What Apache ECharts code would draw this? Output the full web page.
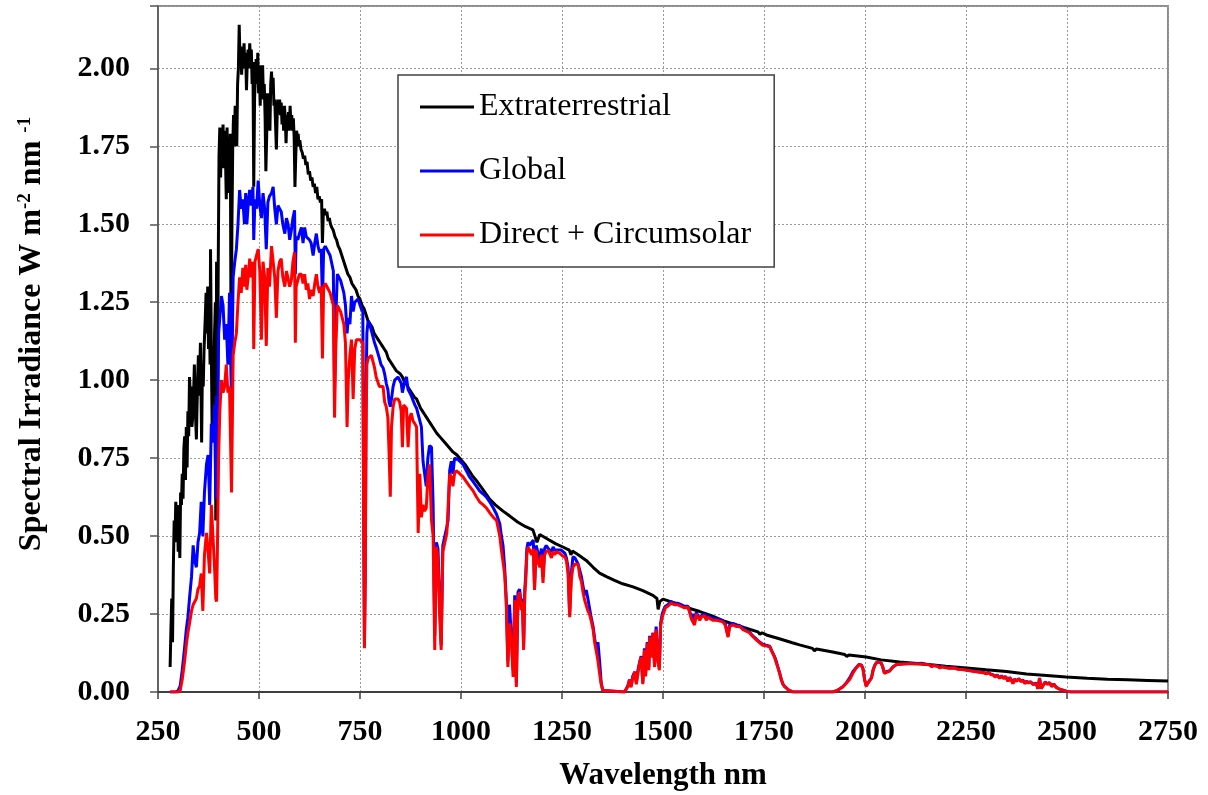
<!DOCTYPE html>
<html>
<head>
<meta charset="utf-8">
<title>Solar Spectral Irradiance</title>
<script src="https://cdn.jsdelivr.net/npm/echarts@6/dist/echarts.min.js"></script>
<style>
  html, body { margin: 0; padding: 0; background: #ffffff; }
  #chart { width: 1208px; height: 795px; }
</style>
</head>
<body>
<div id="chart"></div>
<script>
// Spectral irradiance, W m-2 nm-1, as [wavelength nm, irradiance] pairs.
const extraterrestrial = [
  [280,0.08],[282,0.20],[284,0.30],[286,0.16],[288,0.40],[290,0.55],[292,0.48],[294,0.61],[296,0.56],[298,0.60],
  [300,0.45],[302,0.56],[304,0.43],[306,0.64],[308,0.60],[310,0.70],[312,0.62],[314,0.78],[316,0.82],[318,0.68],
  [320,0.85],[322,0.72],[324,0.90],[326,0.82],[328,1.01],[330,0.95],[332,0.98],[334,0.85],[337,0.90],[340,1.05],
  [342,0.92],[345,0.81],[348,1.00],[350,1.08],[352,0.95],[355,1.12],[358,0.80],[360,1.05],[362,0.98],[364,1.10],
  [367,1.20],[369,1.28],[371,1.15],[373,1.30],[375,1.10],[377,1.20],[379,1.05],[380,1.42],[382,1.10],[384,0.85],
  [386,1.05],[388,1.00],[390,1.15],[392,1.25],[393,0.55],[395,1.38],[397,0.80],[399,1.35],[401,1.72],[403,1.81],
  [405,1.65],[407,1.80],[409,1.75],[411,1.82],[413,1.68],[415,1.80],[417,1.72],[419,1.58],[421,1.81],[423,1.60],
  [425,1.75],[427,1.65],[429,1.79],[431,1.05],[433,1.50],[435,1.75],[437,1.85],[439,1.75],[441,1.88],[443,1.80],
  [445,1.75],[447,1.95],[449,2.00],[451,2.14],[453,2.02],[455,2.07],[457,1.98],[459,2.05],[461,2.01],[463,2.08],
  [465,2.00],[467,2.05],[469,1.93],[471,2.02],[473,2.06],[475,2.00],[477,2.08],[479,2.03],[481,2.06],[483,1.95],
  [485,2.02],[487,1.62],[489,1.90],[491,1.98],[493,2.03],[495,1.95],[497,2.05],[499,1.92],[501,1.98],[503,1.88],
  [505,2.01],[507,1.95],[509,2.01],[511,1.90],[513,1.95],[515,1.85],[517,1.67],[519,1.78],[521,1.92],[523,1.85],
  [525,1.90],[527,1.80],[529,1.95],[531,1.99],[533,1.92],[535,1.97],[537,1.88],[539,1.90],[541,1.82],[543,1.74],
  [545,1.85],[547,1.90],[549,1.86],[551,1.90],[553,1.85],[555,1.89],[557,1.82],[559,1.86],[561,1.80],[563,1.88],
  [565,1.84],[567,1.76],[569,1.85],[571,1.82],[573,1.86],[575,1.80],[577,1.88],[579,1.82],[581,1.85],[583,1.80],
  [585,1.84],[587,1.78],[589,1.62],[591,1.72],[593,1.80],[595,1.78],[597,1.79],[599,1.75],[601,1.77],[604,1.74],
  [607,1.73],[610,1.71],[613,1.72],[616,1.69],[619,1.70],[622,1.66],[625,1.67],[628,1.64],[631,1.65],[634,1.62],
  [637,1.63],[640,1.60],[643,1.62],[646,1.58],[649,1.59],[652,1.57],[655,1.58],[657,1.44],[659,1.53],[662,1.55],
  [665,1.53],[668,1.54],[671,1.51],[674,1.52],[677,1.50],[680,1.49],[684,1.48],[688,1.46],[692,1.45],[696,1.43],
  [700,1.42],[705,1.40],[710,1.38],[715,1.36],[720,1.34],[725,1.33],[730,1.31],[735,1.30],[740,1.29],[745,1.27],
  [750,1.26],[755,1.24],[760,1.23],[765,1.21],[770,1.19],[775,1.18],[780,1.17],[785,1.15],[790,1.14],[795,1.13],
  [800,1.12],[805,1.11],[810,1.10],[815,1.09],[820,1.07],[825,1.06],[830,1.05],[835,1.04],[840,1.03],[845,1.025],
  [850,1.02],[855,1.01],[860,0.995],[866,0.985],[870,0.975],[875,0.965],[880,0.955],[885,0.945],[890,0.94],[895,0.925],
  [900,0.91],[905,0.90],[910,0.89],[915,0.88],[920,0.87],[925,0.86],[930,0.85],[940,0.83],[950,0.815],[960,0.80],
  [970,0.785],[980,0.77],[990,0.76],[1000,0.745],[1010,0.73],[1020,0.71],[1030,0.69],[1040,0.675],[1054,0.65],[1070,0.62],
  [1085,0.60],[1104,0.58],[1120,0.565],[1140,0.545],[1160,0.53],[1178,0.52],[1188,0.48],[1195,0.505],[1215,0.49],[1235,0.475],
  [1252,0.465],[1268,0.455],[1272,0.44],[1276,0.452],[1290,0.44],[1310,0.422],[1327,0.40],[1343,0.381],[1360,0.37],[1380,0.358],
  [1400,0.347],[1426,0.337],[1450,0.325],[1475,0.31],[1485,0.30],[1488,0.265],[1492,0.29],[1500,0.298],[1530,0.285],[1560,0.27],
  [1591,0.258],[1620,0.245],[1650,0.228],[1673,0.218],[1700,0.207],[1735,0.193],[1740,0.185],[1745,0.19],[1756,0.183],[1790,0.17],
  [1820,0.158],[1838,0.151],[1870,0.14],[1875,0.132],[1880,0.138],[1920,0.128],[1950,0.12],[1955,0.114],[1960,0.119],[2003,0.112],
  [2040,0.103],[2086,0.096],[2150,0.089],[2200,0.083],[2251,0.077],[2300,0.071],[2350,0.066],[2400,0.058],[2450,0.053],[2498,0.048],
  [2550,0.044],[2600,0.041],[2650,0.039],[2700,0.037],[2750,0.035]
];

const global = [
  [280,0],[295,0],[300,0.005],[305,0.02],[310,0.07],[316,0.145],[320,0.20],[324,0.24],[328,0.30],[333,0.37],
  [337,0.47],[341,0.42],[345,0.40],[349,0.48],[353,0.51],[357,0.61],[361,0.50],[365,0.64],[370,0.73],[374,0.76],
  [378,0.60],[382,0.86],[386,0.80],[390,0.92],[393,0.62],[395,0.95],[397,0.70],[400,1.15],[403,1.20],[407,1.27],
  [411,1.24],[415,1.13],[419,1.18],[423,1.05],[427,1.28],[432,0.92],[436,1.33],[440,1.38],[444,1.42],[448,1.50],
  [452,1.61],[456,1.55],[460,1.58],[464,1.50],[467,1.60],[470,1.50],[474,1.58],[477,1.61],[481,1.56],[485,1.62],
  [487,1.45],[490,1.58],[494,1.55],[498,1.64],[502,1.56],[506,1.52],[510,1.60],[514,1.55],[518,1.42],[522,1.57],
  [526,1.59],[531,1.60],[535,1.62],[539,1.55],[543,1.50],[547,1.56],[551,1.55],[555,1.54],[559,1.50],[564,1.47],
  [568,1.52],[572,1.50],[576,1.45],[580,1.48],[584,1.52],[588,1.545],[590,1.34],[592,1.46],[596,1.45],[600,1.47],
  [605,1.49],[609,1.44],[613,1.49],[617,1.46],[621,1.46],[625,1.45],[629,1.44],[634,1.40],[638,1.44],[642,1.47],
  [646,1.43],[650,1.41],[654,1.42],[657,1.25],[660,1.42],[664,1.43],[668,1.43],[672,1.41],[676,1.40],[680,1.40],
  [684,1.35],[687,0.97],[690,1.20],[694,1.34],[698,1.34],[702,1.32],[706,1.30],[710,1.28],[714,1.24],[718,1.15],
  [721,1.20],[725,1.18],[729,1.27],[733,1.22],[737,1.25],[741,1.245],[745,1.26],[749,1.245],[753,1.23],[757,1.22],
  [759,0.60],[761,0.16],[763,0.40],[765,0.95],[767,1.15],[770,1.19],[774,1.18],[778,1.16],[782,1.14],[786,1.12],
  [790,1.105],[794,1.10],[798,1.07],[802,1.05],[807,1.04],[811,1.02],[815,0.99],[819,0.97],[822,0.93],[825,0.915],
  [828,0.94],[832,0.98],[836,1.00],[840,1.00],[844,1.01],[848,1.01],[852,0.99],[855,0.96],[858,0.98],[861,1.00],
  [865,1.01],[869,0.97],[873,0.96],[877,0.95],[881,0.936],[886,0.92],[890,0.91],[894,0.89],[898,0.894],[902,0.85],
  [906,0.74],[910,0.70],[914,0.66],[918,0.75],[922,0.79],[927,0.785],[931,0.60],[935,0.18],[939,0.48],[943,0.46],
  [947,0.30],[951,0.15],[955,0.47],[960,0.50],[965,0.53],[968,0.55],[972,0.71],[976,0.74],[980,0.70],[984,0.75],
  [988,0.753],[993,0.745],[997,0.75],[1005,0.73],[1013,0.71],[1021,0.69],[1030,0.675],[1038,0.66],[1046,0.645],[1055,0.635],
  [1063,0.625],[1071,0.61],[1080,0.59],[1088,0.57],[1092,0.555],[1096,0.54],[1100,0.50],[1104,0.47],[1108,0.40],[1112,0.30],
  [1116,0.10],[1120,0.28],[1125,0.17],[1129,0.07],[1133,0.31],[1137,0.03],[1141,0.32],[1145,0.33],[1149,0.28],[1152,0.30],
  [1155,0.15],[1158,0.33],[1160,0.37],[1163,0.46],[1166,0.48],[1170,0.47],[1175,0.48],[1179,0.487],[1182,0.34],[1186,0.47],
  [1190,0.45],[1195,0.42],[1199,0.46],[1203,0.37],[1207,0.46],[1211,0.47],[1216,0.46],[1220,0.465],[1224,0.45],[1228,0.465],
  [1232,0.455],[1236,0.46],[1240,0.455],[1244,0.45],[1248,0.455],[1252,0.455],[1257,0.445],[1261,0.43],[1265,0.40],[1269,0.25],
  [1273,0.38],[1277,0.433],[1282,0.43],[1286,0.42],[1290,0.41],[1294,0.39],[1298,0.37],[1302,0.34],[1306,0.31],[1310,0.327],
  [1314,0.30],[1318,0.27],[1322,0.24],[1327,0.21],[1331,0.17],[1335,0.14],[1339,0.16],[1343,0.10],[1347,0.03],[1351,0.005],
  [1355,0],[1405,0],[1409,0.002],[1413,0.02],[1417,0.04],[1421,0.02],[1425,0.05],[1430,0.065],[1434,0.03],[1438,0.07],
  [1442,0.095],[1446,0.115],[1450,0.03],[1454,0.14],[1457,0.06],[1461,0.16],[1465,0.08],[1467,0.18],[1471,0.12],[1475,0.19],
  [1479,0.09],[1483,0.21],[1487,0.12],[1491,0.08],[1494,0.22],[1498,0.25],[1502,0.265],[1506,0.275],[1512,0.28],[1520,0.29],
  [1528,0.285],[1536,0.285],[1545,0.28],[1553,0.275],[1562,0.275],[1566,0.26],[1570,0.24],[1574,0.25],[1578,0.22],[1582,0.255],
  [1586,0.25],[1591,0.235],[1595,0.245],[1599,0.24],[1603,0.25],[1607,0.235],[1611,0.245],[1616,0.24],[1620,0.235],[1624,0.235],
  [1632,0.235],[1640,0.232],[1648,0.228],[1654,0.22],[1661,0.18],[1665,0.215],[1673,0.22],[1682,0.215],[1690,0.213],[1698,0.205],
  [1706,0.198],[1714,0.193],[1722,0.18],[1731,0.17],[1739,0.16],[1747,0.153],[1755,0.15],[1764,0.147],[1770,0.13],[1776,0.114],
  [1780,0.10],[1784,0.082],[1789,0.06],[1793,0.04],[1797,0.025],[1801,0.018],[1805,0.013],[1812,0.005],[1822,0],[1920,0],
  [1930,0.004],[1937,0.01],[1945,0.017],[1953,0.028],[1962,0.045],[1970,0.065],[1978,0.078],[1985,0.088],[1991,0.087],[1995,0.075],
  [1999,0.04],[2003,0.02],[2008,0.03],[2012,0.025],[2016,0.045],[2020,0.07],[2024,0.085],[2028,0.094],[2034,0.097],[2040,0.093],
  [2044,0.08],[2048,0.062],[2053,0.065],[2057,0.06],[2061,0.068],[2065,0.072],[2069,0.08],[2073,0.085],[2078,0.088],[2090,0.09],
  [2110,0.091],[2127,0.091],[2140,0.092],[2150,0.089],[2160,0.087],[2165,0.082],[2170,0.086],[2180,0.083],[2185,0.078],[2190,0.082],
  [2200,0.079],[2209,0.077],[2220,0.078],[2230,0.074],[2240,0.073],[2251,0.071],[2260,0.069],[2270,0.067],[2280,0.065],[2292,0.063],
  [2300,0.06],[2305,0.063],[2312,0.057],[2317,0.055],[2322,0.05],[2327,0.055],[2333,0.045],[2338,0.052],[2343,0.045],[2348,0.05],
  [2354,0.035],[2358,0.047],[2362,0.04],[2366,0.028],[2370,0.042],[2375,0.035],[2380,0.043],[2386,0.035],[2391,0.038],[2396,0.028],
  [2400,0.035],[2405,0.03],[2410,0.033],[2416,0.025],[2420,0.03],[2424,0.028],[2428,0.01],[2432,0.045],[2436,0.012],[2440,0.016],
  [2446,0.032],[2452,0.026],[2457,0.03],[2462,0.018],[2467,0.026],[2473,0.016],[2480,0.01],[2490,0.006],[2500,0.002],[2510,0],
  [2750,0]
];

const direct = [
  [280,0],[295,0],[300,0],[305,0.005],[310,0.04],[316,0.10],[320,0.15],[324,0.19],[328,0.22],[333,0.26],
  [337,0.28],[341,0.28],[345,0.30],[349,0.33],[353,0.34],[357,0.38],[361,0.26],[365,0.44],[370,0.51],[374,0.45],
  [378,0.38],[382,0.60],[386,0.50],[390,0.40],[393,0.30],[395,0.29],[397,0.45],[400,0.75],[403,0.90],[407,1.00],
  [411,0.96],[415,0.98],[419,1.05],[423,0.96],[427,0.98],[432,0.64],[436,1.08],[440,1.12],[444,1.15],[448,1.25],
  [452,1.33],[456,1.28],[460,1.36],[464,1.30],[467,1.37],[470,1.29],[474,1.34],[477,1.39],[481,1.33],[485,1.38],
  [487,1.10],[490,1.38],[494,1.40],[498,1.42],[502,1.35],[506,1.13],[510,1.38],[514,1.33],[518,1.11],[522,1.36],
  [526,1.30],[531,1.43],[535,1.38],[539,1.33],[543,1.20],[547,1.35],[551,1.38],[555,1.39],[559,1.33],[564,1.30],
  [568,1.35],[572,1.35],[576,1.30],[580,1.32],[584,1.38],[588,1.41],[590,1.12],[592,1.30],[596,1.32],[600,1.34],
  [605,1.34],[609,1.31],[613,1.34],[617,1.29],[621,1.31],[625,1.26],[629,1.29],[634,1.27],[638,1.31],[642,1.34],
  [646,1.30],[650,1.28],[654,1.30],[657,1.07],[660,1.30],[664,1.31],[668,1.31],[672,1.29],[676,1.28],[680,1.28],
  [684,1.24],[687,0.88],[690,1.10],[694,1.24],[698,1.245],[702,1.22],[706,1.20],[710,1.18],[714,1.12],[718,0.85],
  [721,1.00],[725,1.08],[729,1.13],[733,0.94],[737,1.10],[741,1.13],[745,1.13],[749,1.13],[753,1.13],[757,1.12],
  [759,0.55],[761,0.14],[763,0.35],[765,0.85],[767,1.05],[770,1.07],[774,1.07],[778,1.08],[782,1.085],[786,1.04],
  [790,1.01],[794,1.01],[798,0.98],[802,0.98],[807,0.98],[811,0.93],[815,0.915],[819,0.88],[822,0.765],[825,0.626],
  [828,0.85],[832,0.915],[836,0.94],[840,0.945],[844,0.94],[848,0.93],[852,0.90],[855,0.785],[858,0.92],[861,0.926],
  [865,0.91],[869,0.785],[873,0.88],[877,0.894],[881,0.87],[886,0.86],[890,0.85],[894,0.51],[898,0.70],[902,0.56],
  [906,0.60],[910,0.58],[914,0.59],[918,0.69],[922,0.73],[927,0.55],[931,0.50],[935,0.135],[939,0.465],[943,0.43],
  [947,0.25],[951,0.135],[955,0.45],[960,0.48],[965,0.51],[968,0.51],[972,0.70],[976,0.69],[980,0.66],[984,0.70],
  [988,0.71],[993,0.705],[997,0.705],[1005,0.69],[1013,0.675],[1021,0.66],[1030,0.645],[1038,0.626],[1046,0.61],[1055,0.60],
  [1063,0.59],[1071,0.575],[1080,0.56],[1088,0.55],[1092,0.525],[1096,0.50],[1100,0.455],[1104,0.455],[1108,0.38],[1112,0.285],
  [1116,0.08],[1120,0.22],[1125,0.157],[1129,0.048],[1133,0.295],[1137,0.016],[1141,0.305],[1145,0.32],[1149,0.263],[1152,0.29],
  [1155,0.135],[1158,0.32],[1160,0.35],[1163,0.44],[1166,0.465],[1170,0.455],[1175,0.44],[1179,0.46],[1182,0.327],[1186,0.455],
  [1190,0.42],[1195,0.40],[1199,0.44],[1203,0.35],[1207,0.44],[1211,0.45],[1216,0.455],[1220,0.455],[1224,0.43],[1228,0.45],
  [1232,0.44],[1236,0.45],[1240,0.445],[1244,0.445],[1248,0.44],[1252,0.436],[1257,0.433],[1261,0.42],[1265,0.38],[1269,0.24],
  [1273,0.36],[1277,0.40],[1282,0.41],[1286,0.41],[1290,0.41],[1294,0.37],[1298,0.355],[1302,0.32],[1306,0.295],[1310,0.30],
  [1314,0.26],[1318,0.25],[1322,0.23],[1327,0.20],[1331,0.157],[1335,0.13],[1339,0.10],[1343,0.06],[1347,0.025],[1351,0.005],
  [1355,0],[1405,0],[1409,0.002],[1413,0.018],[1417,0.038],[1421,0.015],[1425,0.045],[1430,0.064],[1434,0.025],[1438,0.06],
  [1442,0.093],[1446,0.112],[1450,0.025],[1454,0.135],[1457,0.05],[1461,0.157],[1465,0.07],[1467,0.176],[1471,0.11],[1475,0.19],
  [1479,0.08],[1483,0.20],[1487,0.10],[1491,0.07],[1494,0.21],[1498,0.24],[1502,0.255],[1506,0.27],[1512,0.275],[1520,0.285],
  [1528,0.28],[1536,0.28],[1545,0.275],[1553,0.27],[1562,0.272],[1566,0.255],[1570,0.235],[1574,0.24],[1578,0.215],[1582,0.25],
  [1586,0.245],[1591,0.23],[1595,0.24],[1599,0.235],[1603,0.245],[1607,0.23],[1611,0.24],[1616,0.235],[1620,0.23],[1624,0.23],
  [1632,0.23],[1640,0.228],[1648,0.225],[1654,0.215],[1661,0.176],[1665,0.21],[1673,0.215],[1682,0.21],[1690,0.21],[1698,0.20],
  [1706,0.195],[1714,0.19],[1722,0.178],[1731,0.167],[1739,0.158],[1747,0.15],[1755,0.148],[1764,0.145],[1770,0.128],[1776,0.112],
  [1780,0.095],[1784,0.08],[1789,0.058],[1793,0.038],[1797,0.025],[1801,0.017],[1805,0.013],[1812,0.005],[1822,0],[1920,0],
  [1930,0.004],[1937,0.01],[1945,0.016],[1953,0.027],[1962,0.04],[1970,0.06],[1978,0.077],[1985,0.087],[1991,0.086],[1995,0.074],
  [1999,0.04],[2003,0.018],[2008,0.03],[2012,0.025],[2016,0.045],[2020,0.07],[2024,0.085],[2028,0.093],[2034,0.096],[2040,0.093],
  [2044,0.08],[2048,0.06],[2053,0.063],[2057,0.058],[2061,0.067],[2065,0.07],[2069,0.08],[2073,0.085],[2078,0.088],[2090,0.09],
  [2110,0.091],[2127,0.09],[2140,0.09],[2150,0.088],[2160,0.087],[2165,0.081],[2170,0.085],[2180,0.082],[2185,0.077],[2190,0.081],
  [2200,0.078],[2209,0.076],[2220,0.077],[2230,0.073],[2240,0.072],[2251,0.07],[2260,0.068],[2270,0.066],[2280,0.064],[2292,0.062],
  [2300,0.058],[2305,0.062],[2312,0.055],[2317,0.055],[2322,0.048],[2327,0.054],[2333,0.044],[2338,0.051],[2343,0.043],[2348,0.049],
  [2354,0.034],[2358,0.046],[2362,0.039],[2366,0.027],[2370,0.04],[2375,0.034],[2380,0.042],[2386,0.034],[2391,0.037],[2396,0.027],
  [2400,0.034],[2405,0.029],[2410,0.032],[2416,0.024],[2420,0.029],[2424,0.027],[2428,0.01],[2432,0.044],[2436,0.011],[2440,0.016],
  [2446,0.031],[2452,0.025],[2457,0.03],[2462,0.017],[2467,0.025],[2473,0.015],[2480,0.01],[2490,0.006],[2500,0.002],[2510,0],
  [2750,0]
];

const seriesNames = ['Extraterrestrial', 'Global', 'Direct + Circumsolar'];
const seriesColors = ['#000000', '#0000ff', '#ff0000'];

// Axis ranges and tick steps
const xRange = [250, 2750], xStep = 250;
const yRange = [0, 2.2], yStep = 0.25, yLastLabel = 2.0;

const SERIF = '"Liberation Serif", "Times New Roman", Times, serif';

const chart = echarts.init(document.getElementById('chart'), null, { renderer: 'canvas' });

const lineSeries = [extraterrestrial, global, direct].map((data, i) => ({
  name: seriesNames[i],
  type: 'line',
  data: data,
  symbol: 'none',
  showSymbol: false,
  lineStyle: { color: seriesColors[i], width: 3 },
  itemStyle: { color: seriesColors[i] },
  z: 2 + i,
  animation: false
}));

chart.setOption({
  animation: false,
  backgroundColor: '#ffffff',
  grid: {
    left: 158, right: 40, top: 6, bottom: 103,
    outerBoundsMode: 'none',
    show: true, borderColor: '#8c8c8c', borderWidth: 2, backgroundColor: 'transparent'
  },
  legend: {
    data: seriesNames,
    orient: 'vertical',
    left: 398, top: 75,
    padding: [16, 23, 16, 22],
    itemGap: 32,
    itemWidth: 54,
    itemHeight: 3,
    icon: 'rect',
    backgroundColor: '#ffffff',
    borderColor: '#404040',
    borderWidth: 1.5,
    textStyle: { fontFamily: SERIF, fontSize: 32, color: '#000000', lineHeight: 32 }
  },
  xAxis: {
    type: 'value',
    min: xRange[0], max: xRange[1], interval: xStep,
    name: 'Wavelength nm',
    nameLocation: 'middle',
    nameGap: 68,
    nameTextStyle: { fontFamily: SERIF, fontSize: 31, fontWeight: 'bold', color: '#000000' },
    axisLine: { show: true, onZero: false, lineStyle: { color: '#404040', width: 2 } },
    axisTick: { show: true, inside: false, length: 7, lineStyle: { color: '#404040', width: 1.5 } },
    axisLabel: {
      margin: 25, fontFamily: SERIF, fontSize: 30, fontWeight: 'bold', color: '#000000',
      formatter: v => String(v)
    },
    splitLine: { show: true, lineStyle: { color: '#9a9a9a', width: 1, type: [2, 2] } }
  },
  yAxis: {
    type: 'value',
    min: yRange[0], max: yRange[1], interval: yStep,
    name: 'Spectral Irradiance W m{sup|-2} nm {sup|-1}',
    nameLocation: 'middle',
    nameRotate: 90,
    nameGap: 110,
    nameTextStyle: {
      fontFamily: SERIF, fontSize: 32, fontWeight: 'bold', color: '#000000',
      padding: [0, 0, 0, 30],
      rich: {
        sup: { fontFamily: SERIF, fontSize: 19, fontWeight: 'bold', color: '#000000', verticalAlign: 'top' }
      }
    },
    axisLine: { show: true, onZero: false, lineStyle: { color: '#555555', width: 1.5 } },
    axisTick: { show: true, inside: false, length: 8, lineStyle: { color: '#555555', width: 1.5 } },
    axisLabel: {
      margin: 28, fontFamily: SERIF, fontSize: 30, fontWeight: 'bold', color: '#000000',
      formatter: v => (v > yLastLabel + 1e-9 ? '' : v.toFixed(2))
    },
    splitLine: { show: true, lineStyle: { color: '#9a9a9a', width: 1, type: [2, 2] } }
  },
  series: lineSeries
});
</script>
</body>
</html>
